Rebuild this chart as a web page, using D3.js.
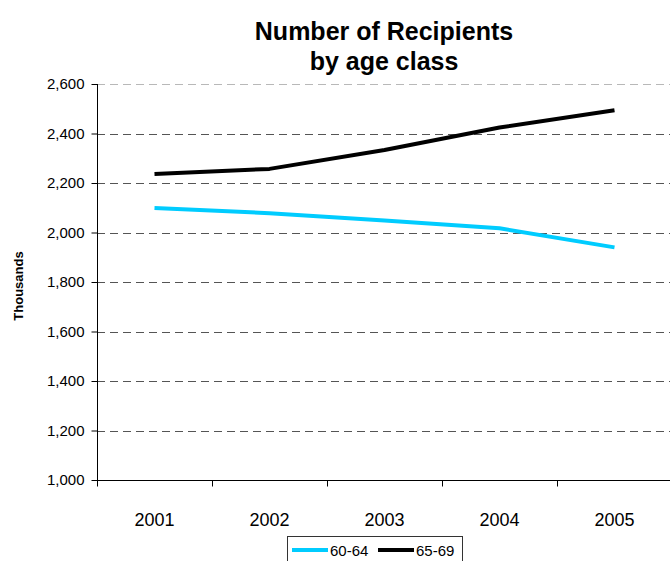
<!DOCTYPE html>
<html>
<head>
<meta charset="utf-8">
<script src="https://cdn.jsdelivr.net/npm/d3@7"></script>
<style>
  html, body { margin: 0; padding: 0; background: #fff; }
  svg { display: block; font-family: "Liberation Sans", Arial, sans-serif; }
</style>
</head>
<body>
<svg id="chart" width="670" height="561"></svg>
<script>
// Recipients (thousands) per year, by age class
const years = ["2001", "2002", "2003", "2004", "2005"];
const age6064 = [2099, 2078, 2048, 2017, 1940];
const age6569 = [2236, 2257, 2333, 2424, 2494];
const seriesNames = ["60-64", "65-69"];
const seriesColors = ["#00CCFF", "#000000"];
const yTicks = [1000, 1200, 1400, 1600, 1800, 2000, 2200, 2400, 2600];

const svg = d3.select("#chart");
const margin = { left: 97, top: 84, right: -2, bottom: 81 };
const W = 670, H = 561;
const plotW = W - margin.left - margin.right;
const plotH = H - margin.top - margin.bottom;

const x = d3.scaleBand().domain(years).range([margin.left, margin.left + plotW]);
const y = d3.scaleLinear().domain([1000, 2600]).range([margin.top + plotH, margin.top]);

// Title (two lines)
const title = svg.append("text")
  .attr("text-anchor", "middle")
  .attr("font-size", 25).attr("font-weight", "bold");
title.append("tspan").attr("x", 384).attr("y", 40).text("Number of Recipients");
title.append("tspan").attr("x", 384).attr("y", 70).text("by age class");

// Dashed gridlines
svg.append("g").selectAll("line")
  .data(yTicks.filter(v => v > 1000))
  .join("line")
  .attr("x1", margin.left).attr("x2", W)
  .attr("y1", d => Math.round(y(d)) + 0.5).attr("y2", d => Math.round(y(d)) + 0.5)
  .attr("stroke", d => d === 2600 ? "#b8b8b8" : "#555")
  .attr("stroke-width", 1)
  .attr("stroke-dasharray", "8,5");

// Y axis
const yAxis = d3.axisLeft(y).tickValues(yTicks).tickSize(6).tickPadding(7)
  .tickFormat(d3.format(","));
const gy = svg.append("g")
  .attr("transform", `translate(${margin.left + 0.5},0)`)
  .call(yAxis);
gy.select(".domain").attr("stroke", "#000").attr("d", `M0,${y(2600)}V${y(1000)}`);
gy.selectAll(".tick line").attr("stroke", "#000");
gy.selectAll(".tick text").attr("font-size", 15).attr("fill", "#000")
  .attr("font-family", "'Liberation Sans', Arial, sans-serif");

// X axis with ticks at category boundaries
const gx = svg.append("g")
  .attr("transform", `translate(0,${Math.round(y(1000)) + 0.5})`);
gx.append("line")
  .attr("x1", margin.left).attr("x2", W)
  .attr("stroke", "#000");
gx.selectAll("line.tk")
  .data(years)
  .join("line").attr("class", "tk")
  .attr("x1", d => Math.round(x(d)) + 0.5).attr("x2", d => Math.round(x(d)) + 0.5)
  .attr("y1", 0).attr("y2", 6)
  .attr("stroke", "#000");
gx.selectAll("text")
  .data(years)
  .join("text")
  .attr("x", d => x(d) + x.bandwidth() / 2)
  .attr("y", 45)
  .attr("text-anchor", "middle")
  .attr("font-size", 18)
  .text(d => d);

// Y axis title
svg.append("text")
  .attr("transform", `translate(23,${(y(1000) + y(2600)) / 2 + 4}) rotate(-90)`)
  .attr("text-anchor", "middle")
  .attr("font-size", 13).attr("font-weight", "bold")
  .text("Thousands");

// Lines
const line = d3.line()
  .x((d, i) => x(years[i]) + x.bandwidth() / 2)
  .y(d => y(d));
[age6064, age6569].forEach((vals, i) => {
  svg.append("path")
    .datum(vals)
    .attr("fill", "none")
    .attr("stroke", seriesColors[i])
    .attr("stroke-width", 4)
    .attr("stroke-linejoin", "round")
    .attr("d", line);
});

// Legend
const lg = svg.append("g");
lg.append("rect")
  .attr("x", 287.5).attr("y", 536.5)
  .attr("width", 175).attr("height", 30)
  .attr("fill", "#fff").attr("stroke", "#333");
const entries = [
  { x0: 292, x1: 328, tx: 330 },
  { x0: 378, x1: 414, tx: 416 }
];
entries.forEach((e, i) => {
  lg.append("line")
    .attr("x1", e.x0).attr("x2", e.x1)
    .attr("y1", 550).attr("y2", 550)
    .attr("stroke", seriesColors[i]).attr("stroke-width", 4);
  lg.append("text")
    .attr("x", e.tx).attr("y", 555.5)
    .attr("font-size", 15)
    .text(seriesNames[i]);
});
</script>
</body>
</html>
